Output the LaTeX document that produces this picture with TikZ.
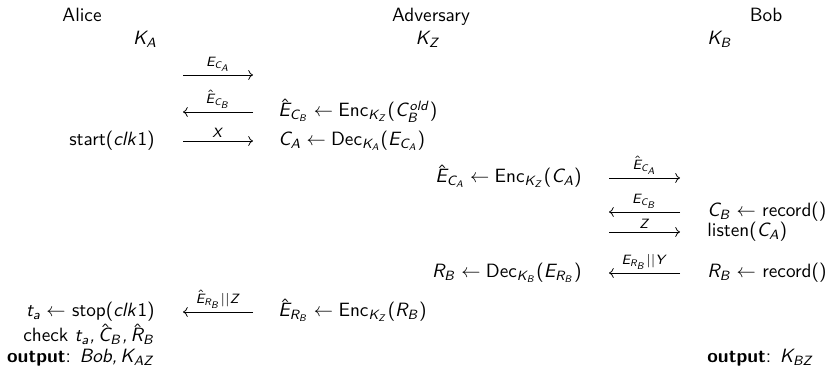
\documentclass[tikz,border=0pt]{standalone}
\usepackage{tikz}
\usetikzlibrary{arrows.meta}
\renewcommand{\familydefault}{\sfdefault}
% sans serif math, as on slides
\DeclareSymbolFont{letters}{OT1}{cmss}{m}{sl}
\SetSymbolFont{operators}{normal}{OT1}{cmss}{m}{n}
\mathcode`\,="612C

\tikzset{
    msg/.style={->, thin},
    lbl/.style={above=0.5pt, font=\scriptsize, inner sep=1pt},
    lft/.style={anchor=base east, inner sep=0pt},
    rgt/.style={anchor=base west, inner sep=0pt},
    mid/.style={anchor=base, inner sep=0pt}
}

\begin{document}
\begin{tikzpicture}[x=0.52pt, y=-0.52pt]

\useasboundingbox (0,0) rectangle (827,369);

% Parties and keys
\node[mid] (alice) at (82,22) {Alice};
\node[mid] (adv) at (431,22) {Adversary};
\node[mid] (bob) at (766,22) {Bob};
\node[mid] (ka) at (145,45) {$K_A$};
\node[mid] (kz) at (428,45) {$K_Z$};
\node[rgt] (kb) at (707,45) {$K_B$};

% Alice column
\node[lft] (start) at (155,146) {start($clk1$)};
\node[lft] (stop) at (155,317) {$t_a \leftarrow$ stop($clk1$)};
\node[lft] (check) at (155,342) {check $t_a, \hat{C}_B, \hat{R}_B$};
\node[lft] (outa) at (155,363) {\textbf{output}: $Bob, K_{AZ}$};

% Adversary, first column
\node[rgt] (enc1) at (278,117) {$\hat{E}_{C_B} \leftarrow \mathsf{Enc}_{K_Z}(C_B^{old})$};
\node[rgt] (dec1) at (278,146) {$C_A \leftarrow \mathsf{Dec}_{K_A}(E_{C_A})$};
\node[rgt] (enc3) at (278,317) {$\hat{E}_{R_B} \leftarrow \mathsf{Enc}_{K_Z}(R_B)$};

% Adversary, second column
\node[lft] (enc2) at (582,183) {$\hat{E}_{C_A} \leftarrow \mathsf{Enc}_{K_Z}(C_A)$};
\node[lft] (dec2) at (582,278) {$R_B \leftarrow \mathsf{Dec}_{K_B}(E_{R_B})$};

% Bob column
\node[rgt] (rec1) at (707,217) {$C_B \leftarrow$ record()};
\node[rgt] (listen) at (707,237) {listen($C_A$)};
\node[rgt] (rec2) at (707,278) {$R_B \leftarrow$ record()};
\node[rgt] (outb) at (707,363) {\textbf{output}: $K_{BZ}$};

% Messages between Alice and Adversary
\coordinate (m1a) at (183,75);  \coordinate (m1b) at (253,75);
\coordinate (m2a) at (183,112); \coordinate (m2b) at (253,112);
\coordinate (m3a) at (183,141); \coordinate (m3b) at (253,141);
\coordinate (m8a) at (183,312); \coordinate (m8b) at (253,312);
\draw[msg] (m1a) -- node[lbl] {$E_{C_A}$} (m1b);
\draw[msg] (m2b) -- node[lbl] {$\hat{E}_{C_B}$} (m2a);
\draw[msg] (m3a) -- node[lbl] {$X$} (m3b);
\draw[msg] (m8b) -- node[lbl] {$\hat{E}_{R_B}||Z$} (m8a);

% Messages between Adversary and Bob
\coordinate (m4a) at (609,178); \coordinate (m4b) at (680,178);
\coordinate (m5a) at (609,212); \coordinate (m5b) at (680,212);
\coordinate (m6a) at (609,232); \coordinate (m6b) at (680,232);
\coordinate (m7a) at (609,273); \coordinate (m7b) at (680,273);
\draw[msg] (m4a) -- node[lbl] {$\hat{E}_{C_A}$} (m4b);
\draw[msg] (m5b) -- node[lbl] {$E_{C_B}$} (m5a);
\draw[msg] (m6a) -- node[lbl] {$Z$} (m6b);
\draw[msg] (m7b) -- node[lbl] {$E_{R_B}||Y$} (m7a);

\end{tikzpicture}
\end{document}
